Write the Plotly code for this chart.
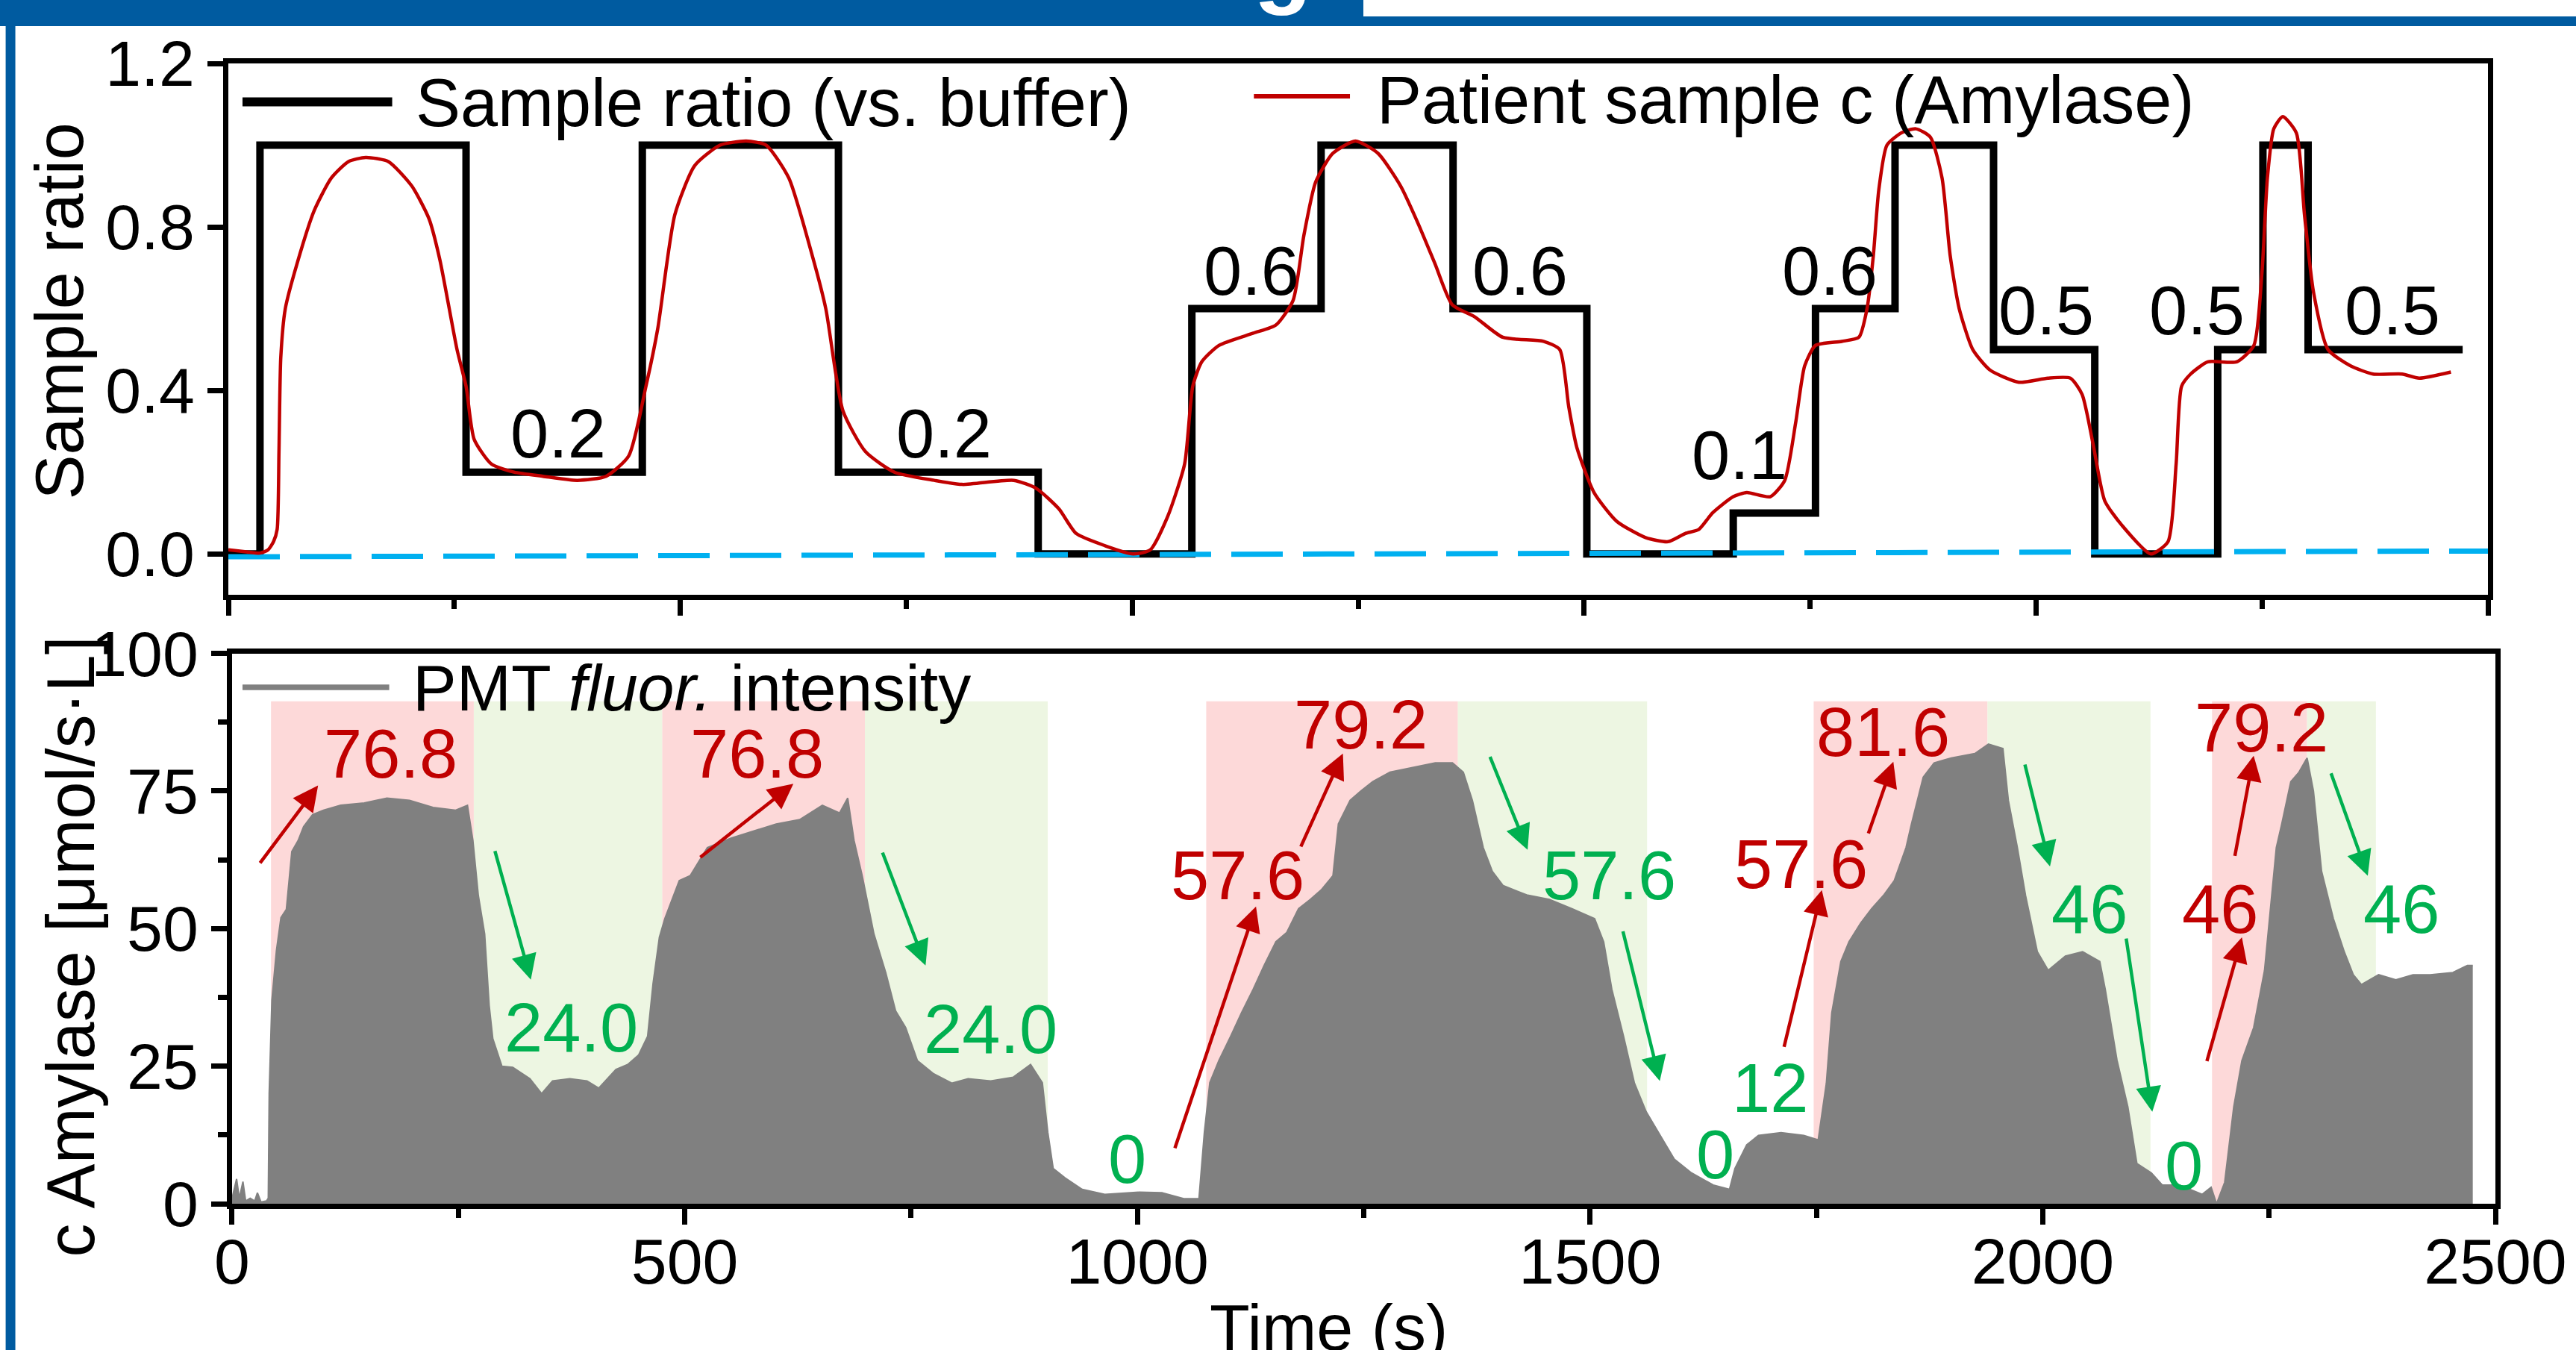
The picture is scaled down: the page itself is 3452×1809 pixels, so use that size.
import plotly.graph_objects as go

# ---------------- data ----------------
# top panel: programmed sample ratio (step function)
step_t = [0, 35, 263, 458, 675, 896, 1066, 1209, 1355, 1503, 1665, 1756, 1844, 1953, 2065, 2201, 2251, 2301, 2472]
step_v = [0, 1, 0.2, 1, 0.2, 0, 0.6, 1, 0.6, 0, 0.1, 0.6, 1, 0.5, 0, 0.5, 1, 0.5, 0.5]

# top panel: patient sample c (Amylase) normalised response
red_t = [0, 20, 35, 44, 50, 54, 56, 58, 63, 76, 95, 114, 133, 152, 177, 203, 222, 234, 253, 263, 272, 291,
         316, 348, 386, 418, 443, 462, 475, 494, 516, 544, 573, 595, 620, 646, 661, 680, 705, 737, 781, 812,
         869, 894, 919, 938, 970, 1001, 1020, 1039, 1058, 1067, 1077, 1096, 1134, 1159, 1178, 1190, 1203,
         1222, 1247, 1272, 1297, 1316, 1335, 1354, 1379, 1410, 1455, 1473, 1483, 1492, 1511, 1536, 1568,
         1593, 1612, 1627, 1642, 1665, 1680, 1706, 1722, 1734, 1744, 1756, 1785, 1804, 1813, 1820, 1826,
         1835, 1851, 1867, 1883, 1896, 1905, 1915, 1930, 1949, 1981, 2013, 2038, 2051, 2063, 2076, 2095,
         2127, 2146, 2155, 2161, 2171, 2190, 2222, 2241, 2250, 2256, 2263, 2273, 2288, 2297, 2307, 2323,
         2348, 2373, 2405, 2424, 2459]
red_v = [0.01, 0.005, 0.002, 0.01, 0.03, 0.06, 0.25, 0.48, 0.60, 0.71, 0.84, 0.92, 0.96, 0.97, 0.96, 0.90,
         0.82, 0.72, 0.50, 0.41, 0.28, 0.22, 0.20, 0.19, 0.18, 0.19, 0.24, 0.41, 0.55, 0.83, 0.95, 1.0,
         1.01, 1.0, 0.92, 0.73, 0.60, 0.35, 0.25, 0.20, 0.18, 0.17, 0.18, 0.16, 0.11, 0.05, 0.02, 0.0, 0.01,
         0.09, 0.22, 0.41, 0.47, 0.51, 0.54, 0.56, 0.62, 0.78, 0.91, 0.98, 1.01, 0.98, 0.90, 0.81, 0.71,
         0.61, 0.58, 0.53, 0.52, 0.50, 0.36, 0.26, 0.15, 0.08, 0.04, 0.03, 0.05, 0.06, 0.10, 0.14, 0.15,
         0.14, 0.18, 0.32, 0.46, 0.51, 0.52, 0.53, 0.60, 0.73, 0.89, 1.0, 1.03, 1.04, 1.02, 0.92, 0.73,
         0.60, 0.50, 0.45, 0.42, 0.43, 0.43, 0.39, 0.27, 0.13, 0.07, 0.0, 0.03, 0.22, 0.41, 0.44, 0.47,
         0.47, 0.51, 0.69, 0.92, 1.04, 1.07, 1.03, 0.83, 0.64, 0.50, 0.46, 0.44, 0.44, 0.43, 0.445]

# buffer baseline (dashed)
base_t = [0, 2500]
base_v = [-0.007, 0.007]

# ratio labels in the top panel
ratio_lbl_t = [365, 792, 1132, 1429, 1672, 1772, 2011, 2178, 2394]
ratio_lbl_v = [0.295, 0.295, 0.693, 0.693, 0.242, 0.693, 0.595, 0.595, 0.595]
ratio_lbl = ["0.2", "0.2", "0.6", "0.6", "0.1", "0.6", "0.5", "0.5", "0.5"]

# bottom panel: PMT fluorescence intensity converted to c Amylase
pmt_t = [0, 5, 8, 12, 15, 20, 25, 28, 32, 38, 40, 41, 44, 49, 54, 60, 66, 73, 79, 89, 101, 120, 146, 171,
         196, 222, 247, 260, 266, 272, 279, 284, 288, 298, 310, 329, 342, 354, 373, 392, 405, 424, 437,
         449, 459, 465, 472, 478, 484, 494, 506, 525, 551, 576, 601, 627, 652, 671, 680, 687, 696, 709,
         722, 733, 744, 757, 775, 795, 813, 838, 863, 882, 895, 901, 907, 920, 939, 964, 1002, 1027, 1052,
         1068, 1074, 1080, 1090, 1103, 1115, 1128, 1140, 1153, 1165, 1178, 1191, 1203, 1216, 1222, 1235,
         1247, 1260, 1279, 1304, 1329, 1348, 1360, 1370, 1382, 1392, 1404, 1430, 1455, 1480, 1505, 1515,
         1524, 1537, 1549, 1562, 1574, 1593, 1612, 1636, 1654, 1660, 1673, 1686, 1711, 1736, 1752, 1761,
         1767, 1777, 1786, 1799, 1811, 1824, 1836, 1849, 1855, 1868, 1880, 1899, 1925, 1940, 1956, 1962,
         1972, 1981, 1994, 2006, 2025, 2044, 2063, 2069, 2082, 2094, 2104, 2120, 2132, 2151, 2176, 2186,
         2192, 2201, 2211, 2220, 2233, 2245, 2258, 2264, 2274, 2283, 2292, 2299, 2308, 2321, 2333, 2343,
         2352, 2371, 2390, 2409, 2428, 2453, 2469, 2475]
pmt_v = [1, 4.5, 1, 4, 0.5, 1, 0.5, 2, 0.3, 0.5, 1, 20, 37, 46, 52, 53.5, 64, 66, 68.5, 70.7, 71.5, 72.4,
         72.8, 73.7, 73.3, 72, 71.5, 72.4, 66, 56, 49, 36, 30, 25, 24.8, 22.7, 20, 22.3, 22.7, 22.3, 21,
         24.4, 25.3, 27, 30.4, 40, 48.4, 51.8, 54.4, 58.7, 59.6, 64.7, 66.4, 67.7, 69, 69.8, 72.4, 71,
         73.7, 66, 59.6, 49, 42, 35, 32, 26, 23.6, 21.9, 22.7, 22.3, 23, 25.3, 22, 13, 6.4, 4.7, 2.6, 1.7,
         2.1, 2, 0.9, 0.9, 13, 22, 26, 30.4, 34.7, 39, 43.3, 47.6, 49.3, 53.6, 55.3, 57, 59.6, 69, 73.3,
         75, 76.7, 78.4, 79.3, 80.1, 80.1, 78.4, 73.3, 64.7, 60.4, 57.8, 56.1, 55.3, 53.6, 51.8, 47.6, 39,
         30.4, 21.9, 16.7, 13.3, 8.1, 5.6, 3.4, 2.6, 6.4, 10.7, 12.4, 12.9, 12.4, 11.6, 21.9, 34.7, 44,
         47.6, 51, 53.6, 56, 58.7, 64.7, 69, 77.5, 80.1, 81, 81.8, 83.5, 82.7, 73.3, 64.7, 56, 45.8, 42.4,
         45, 45.8, 44, 39, 26.1, 17.6, 7.3, 5.6, 3.4, 3.4, 1.7, 3, 0, 3.9, 17.6, 26, 32, 42.4, 64.7, 69,
         76.7, 78.4, 81, 75, 60.4, 51.8, 45.8, 41.6, 39.8, 41.6, 40.7, 41.6, 41.6, 42, 43.3, 43.3]

# shaded windows (rising = pink, falling = green)
rise_start = [43, 475, 1076, 1747, 2187]
rise_end = [267, 699, 1354, 1939, 2292]
fall_start = [267, 699, 1354, 1939, 2292]
fall_end = [475, 901, 1563, 2119, 2368]
shade_top = 91.3

# value labels in the bottom panel
red_lbl_t = [175, 580, 1111, 1247, 1733, 1824, 2196, 2242]
red_lbl_v = [81.8, 81.8, 59.6, 87.0, 61.7, 85.7, 53.6, 86.5]
red_lbl = ["76.8", "76.8", "57.6", "79.2", "57.6", "81.6", "46", "79.2"]
green_lbl_t = [375, 838, 989, 1521, 1638, 1699, 2052, 2156, 2396]
green_lbl_v = [32.0, 31.7, 8.1, 59.6, 9.0, 21.0, 53.6, 6.9, 53.6]
green_lbl = ["24.0", "24.0", "0", "57.6", "0", "12", "46", "0", "46"]

# arrows: tail (t, v) -> head (t, v)
red_arrow_tail_t = [30, 516, 1041, 1180, 1714, 1807, 2181, 2212]
red_arrow_tail_v = [61.7, 62.8, 9.9, 64.7, 28.3, 67.1, 25.7, 63.0]
red_arrow_head_t = [95, 620, 1131, 1227, 1756, 1835, 2220, 2233]
red_arrow_head_v = [76.0, 76.3, 54.0, 81.8, 57.0, 80.3, 48.4, 81.4]
green_arrow_tail_t = [290, 718, 1389, 1536, 1980, 2092, 2318]
green_arrow_tail_v = [64.3, 64.0, 81.4, 49.7, 80.0, 48.4, 78.4]
green_arrow_head_t = [330, 766, 1431, 1577, 2008, 2121, 2359]
green_arrow_head_v = [40.7, 43.3, 64.3, 22.3, 61.3, 16.7, 59.6]

# ---------------- styling ----------------
FONT = "Liberation Sans, Arial, sans-serif"
RED = "#C00000"
GREEN = "#00B050"
CYAN = "#00B0F0"
GRAY = "#808080"
BLUE = "#005BA0"
PINK_BG = "#FDD9D9"
GREEN_BG = "#EDF6E2"

W, H = 3452, 1809
ML, MR, MT, MB = 306, 102, 85, 196
PW = W - ML - MR
PH = H - MT - MB


def px(xp):
    return (xp - ML) / PW


def py(yp):
    return (H - MB - yp) / PH


fig = go.Figure()

# top panel traces
fig.add_trace(go.Scatter(x=step_t, y=step_v, mode="lines", line=dict(color="black", width=10, shape="hv"),
                         xaxis="x", yaxis="y", hoverinfo="skip"))
fig.add_trace(go.Scatter(x=base_t, y=base_v, mode="lines", line=dict(color=CYAN, width=7, dash="69px,27px"),
                         xaxis="x", yaxis="y", hoverinfo="skip"))
fig.add_trace(go.Scatter(x=red_t, y=red_v, mode="lines",
                         line=dict(color=RED, width=4.5, shape="spline", smoothing=0.6),
                         xaxis="x", yaxis="y", hoverinfo="skip"))

# bottom panel trace
fig.add_trace(go.Scatter(x=pmt_t, y=pmt_v, mode="lines", fill="tozeroy", fillcolor=GRAY,
                         line=dict(color=GRAY, width=2), xaxis="x2", yaxis="y2", hoverinfo="skip"))

shapes = []
for a, b in zip(rise_start, rise_end):
    shapes.append(dict(type="rect", xref="x2", yref="y2", x0=a, x1=b, y0=0, y1=shade_top,
                       fillcolor=PINK_BG, line=dict(width=0), layer="below"))
for a, b in zip(fall_start, fall_end):
    shapes.append(dict(type="rect", xref="x2", yref="y2", x0=a, x1=b, y0=0, y1=shade_top,
                       fillcolor=GREEN_BG, line=dict(width=0), layer="below"))

# legends drawn as line samples
shapes.append(dict(type="line", xref="paper", yref="paper", x0=px(325), x1=px(526), y0=py(136.5), y1=py(136.5),
                   line=dict(color="black", width=12)))
shapes.append(dict(type="line", xref="paper", yref="paper", x0=px(1683), x1=px(1812), y0=py(129), y1=py(129),
                   line=dict(color=RED, width=6)))
shapes.append(dict(type="line", xref="paper", yref="paper", x0=px(325), x1=px(522), y0=py(921), y1=py(921),
                   line=dict(color=GRAY, width=7.5)))

# page decoration (blue title bar and side rule)
shapes.append(dict(type="rect", xref="paper", yref="paper", x0=px(-10), x1=px(1830), y0=py(35), y1=py(-10),
                   fillcolor=BLUE, line=dict(width=0), layer="above"))
shapes.append(dict(type="rect", xref="paper", yref="paper", x0=px(1830), x1=px(3470), y0=py(35), y1=py(22),
                   fillcolor=BLUE, line=dict(width=0), layer="above"))
shapes.append(dict(type="rect", xref="paper", yref="paper", x0=px(7), x1=px(20), y0=py(1830), y1=py(35),
                   fillcolor=BLUE, line=dict(width=0), layer="above"))

annotations = []
for t, v, s in zip(ratio_lbl_t, ratio_lbl_v, ratio_lbl):
    annotations.append(dict(x=t, y=v, xref="x", yref="y", text=s, showarrow=False,
                            font=dict(size=92, color="black", family=FONT)))
for t, v, s in zip(red_lbl_t, red_lbl_v, red_lbl):
    annotations.append(dict(x=t, y=v, xref="x2", yref="y2", text=s, showarrow=False,
                            font=dict(size=92, color=RED, family=FONT)))
for t, v, s in zip(green_lbl_t, green_lbl_v, green_lbl):
    annotations.append(dict(x=t, y=v, xref="x2", yref="y2", text=s, showarrow=False,
                            font=dict(size=92, color=GREEN, family=FONT)))
for t0, v0, t1, v1 in zip(red_arrow_tail_t, red_arrow_tail_v, red_arrow_head_t, red_arrow_head_v):
    annotations.append(dict(x=t1, y=v1, ax=t0, ay=v0, xref="x2", yref="y2", axref="x2", ayref="y2",
                            text="", showarrow=True, arrowhead=2, arrowsize=1.5, arrowwidth=4.5,
                            arrowcolor=RED, standoff=0, startstandoff=0))
for t0, v0, t1, v1 in zip(green_arrow_tail_t, green_arrow_tail_v, green_arrow_head_t, green_arrow_head_v):
    annotations.append(dict(x=t1, y=v1, ax=t0, ay=v0, xref="x2", yref="y2", axref="x2", ayref="y2",
                            text="", showarrow=True, arrowhead=2, arrowsize=1.5, arrowwidth=4.5,
                            arrowcolor=GREEN, standoff=0, startstandoff=0))

# legend texts
annotations.append(dict(x=px(555), y=py(138), xref="paper", yref="paper", xanchor="left", yanchor="middle",
                        text="Sample ratio (vs. buffer)", showarrow=False, font=dict(size=90, family=FONT)))
annotations.append(dict(x=px(1846), y=py(134), xref="paper", yref="paper", xanchor="left", yanchor="middle",
                        text="Patient sample c (Amylase)", showarrow=False, font=dict(size=90, family=FONT)))
annotations.append(dict(x=px(551), y=py(921), xref="paper", yref="paper", xanchor="left", yanchor="middle",
                        text="PMT <i>fluor.</i> intensity", showarrow=False, font=dict(size=88, family=FONT)))

# axis titles
annotations.append(dict(x=px(80), y=py(417), xref="paper", yref="paper", xanchor="center", yanchor="middle",
                        text="Sample ratio", textangle=-90, showarrow=False, font=dict(size=90, family=FONT)))
annotations.append(dict(x=px(95), y=py(1268), xref="paper", yref="paper", xanchor="center", yanchor="middle",
                        text="c Amylase [μmol/s·L]", textangle=-90, showarrow=False,
                        font=dict(size=90, family=FONT)))
annotations.append(dict(x=px(1783), y=py(1727), xref="paper", yref="paper", xanchor="center", yanchor="top",
                        text="Time (s)", showarrow=False, font=dict(size=88, family=FONT)))

# title-bar glyph remnant
annotations.append(dict(x=px(1722), y=py(22), xref="paper", yref="paper", xanchor="center", yanchor="bottom",
                        text="<b>g</b>", showarrow=False, borderpad=0,
                        font=dict(size=128, color="white", family=FONT)))

axis_common = dict(showline=True, linecolor="black", linewidth=7, mirror=True, showgrid=False,
                   zeroline=False, ticks="outside", tickcolor="black", tickwidth=7, ticklen=21,
                   tickfont=dict(size=86, color="black", family=FONT))

fig.update_layout(
    width=W, height=H,
    margin=dict(l=ML, r=MR, t=MT, b=MB),
    paper_bgcolor="white", plot_bgcolor="white",
    showlegend=False,
    font=dict(family=FONT, color="black"),
    xaxis=dict(domain=[0, px(3340)], range=[0, 2500], anchor="y", showticklabels=False,
               tickmode="linear", tick0=0, dtick=500,
               minor=dict(ticks="outside", dtick=250, ticklen=12, tickwidth=7, tickcolor="black"),
               **axis_common),
    yaxis=dict(domain=[py(797), 1], range=[-0.1, 1.2], anchor="x",
               tickmode="array", tickvals=[0, 0.4, 0.8, 1.2], ticktext=["0.0", "0.4", "0.8", "1.2"],
               **axis_common),
    xaxis2=dict(domain=[px(311), 1], range=[0, 2500], anchor="y2",
                tickmode="linear", tick0=0, dtick=500, ticklabelstandoff=-24,
                minor=dict(ticks="outside", dtick=250, ticklen=12, tickwidth=7, tickcolor="black"),
                **axis_common),
    yaxis2=dict(domain=[0, py(875.5)], range=[0, 100], anchor="x2",
                tickmode="linear", tick0=0, dtick=25,
                minor=dict(ticks="outside", dtick=12.5, ticklen=12, tickwidth=7, tickcolor="black"),
                **axis_common),
    shapes=shapes,
    annotations=annotations,
)

fig.write_html("out.html", config={"displayModeBar": False},
               post_script="document.body.style.margin='0px';document.body.style.overflow='hidden';")
